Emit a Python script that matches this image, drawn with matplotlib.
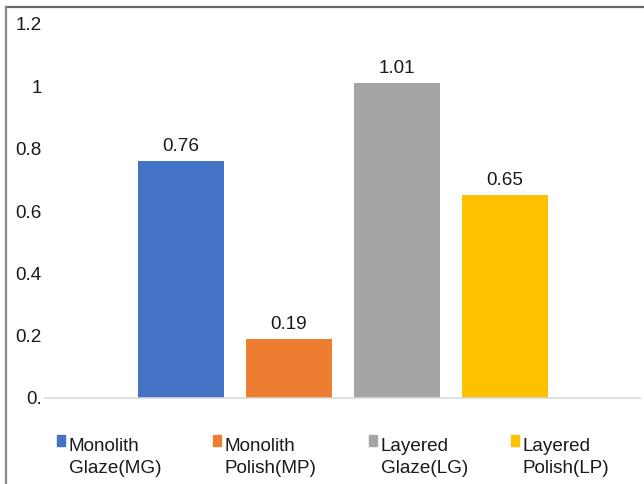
import matplotlib
matplotlib.use("Agg")
import matplotlib.pyplot as plt
from matplotlib.patches import Rectangle
from matplotlib.lines import Line2D

# Surface roughness by specimen group
groups = ["Monolith\nGlaze(MG)", "Monolith\nPolish(MP)", "Layered\nGlaze(LG)", "Layered\nPolish(LP)"]
values = [0.76, 0.19, 1.01, 0.65]
colors = ["#4472C4", "#ED7D31", "#A5A5A5", "#FFC000"]
yticks = [0, 0.2, 0.4, 0.6, 0.8, 1.0, 1.2]
ytick_labels = ["0.", "0.2", "0.4", "0.6", "0.8", "1", "1.2"]

W, H = 644, 484
plt.rcParams["font.family"] = ["Liberation Sans", "DejaVu Sans"]
FS = 13.6
TXT = "#1a1a1a"

fig = plt.figure(figsize=(W / 100, H / 100), dpi=100)

# axes placement in pixels (left, right, top, bottom measured from top-left)
ax_l, ax_r, ax_t, ax_b = 45, 640, 24, 398
ax = fig.add_axes([ax_l / W, 1 - ax_b / H, (ax_r - ax_l) / W, (ax_b - ax_t) / H])

x = list(range(len(values)))
ax.bar(x, values, width=0.8, color=colors, zorder=2)
for xi, v in zip(x, values):
    ax.annotate(f"{v:.2f}", (xi, v), xytext=(0, 7.2), textcoords="offset points",
                ha="center", va="baseline", fontsize=FS, color=TXT)

ax.set_xlim(-1.26, 4.25)
ax.set_ylim(0, 1.2)
ax.set_yticks(yticks)
ax.set_yticklabels(ytick_labels, fontsize=FS, color=TXT)
ax.tick_params(axis="y", length=0, pad=2.5)
ax.set_xticks([])
for s in ["top", "right", "left"]:
    ax.spines[s].set_visible(False)
ax.spines["bottom"].set_color("#d9d9d9")
ax.spines["bottom"].set_linewidth(1.2)

# legend drawn below the plot
sq_x = [57, 213, 369, 511]
txt_x = [69, 224, 381, 523]
for sx, tx, lab, c in zip(sq_x, txt_x, groups, colors):
    fig.patches.append(Rectangle((sx / W, 1 - 446 / H), 7.5 / W, 11 / H,
                                 transform=fig.transFigure, color=c))
    for i, line in enumerate(lab.split("\n")):
        fig.text(tx / W, 1 - (451 + 22 * i) / H, line, fontsize=FS, color=TXT,
                 ha="left", va="baseline")

# chart frame (top and left edges)
fig.lines.append(Line2D([6 / W, 1], [1 - 6.5 / H, 1 - 6.5 / H], transform=fig.transFigure,
                        color="#666666", linewidth=1.6))
fig.lines.append(Line2D([6 / W, 6 / W], [0, 1 - 6.5 / H], transform=fig.transFigure,
                        color="#888888", linewidth=1.6))

fig.savefig("out.png", dpi=100)
